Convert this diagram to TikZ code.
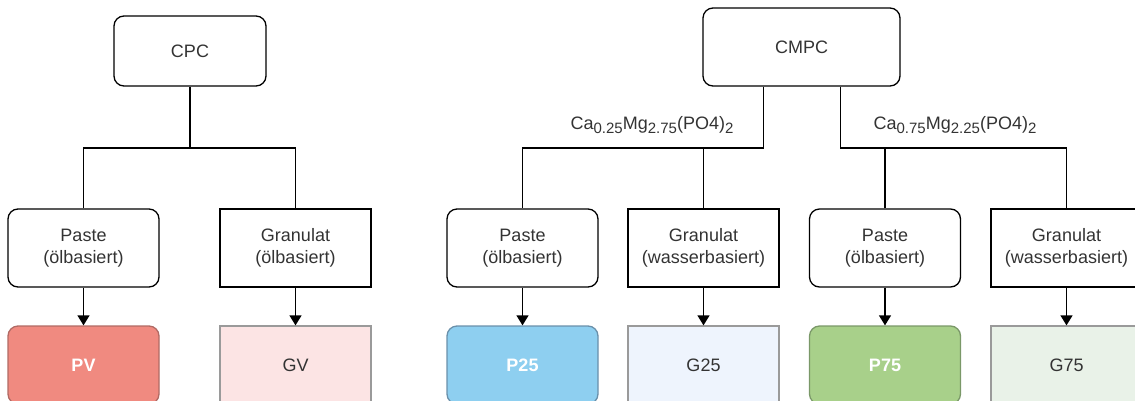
\documentclass[tikz,border=0pt]{standalone}
\usepackage{fontspec}
\setmainfont{Liberation Sans}
\usetikzlibrary{arrows.meta,calc}
\definecolor{txt}{HTML}{333333}
\definecolor{pvfill}{HTML}{F08A80}
\definecolor{pvdraw}{HTML}{B06A64}
\definecolor{gvfill}{HTML}{FCE4E4}
\definecolor{pbfill}{HTML}{8ECFF0}
\definecolor{pbdraw}{HTML}{6A90AA}
\definecolor{gbfill}{HTML}{EEF4FD}
\definecolor{pgfill}{HTML}{A8D08A}
\definecolor{pgdraw}{HTML}{7A9868}
\definecolor{ggfill}{HTML}{E9F2E8}
\definecolor{gdraw}{HTML}{9A9A9A}
\newcommand{\mysub}[1]{\raisebox{-4pt}{\fontsize{15}{15}\selectfont #1}}
\tikzset{
  base/.style={draw=black, line width=1.3pt, minimum width=151pt, minimum height=78pt,
    inner sep=0pt, align=center, text=txt, font=\fontsize{18}{22}\selectfont},
  roundbox/.style={base, rounded corners=10pt},
  sqbox/.style={base},
  pbox/.style={roundbox, text=white, font=\fontsize{18}{22}\selectfont\bfseries},
  gbox/.style={sqbox, draw=gdraw},
  conn/.style={line width=1.3pt, draw=black},
  arr/.style={conn, -{Triangle[width=12pt,length=10pt]}},
  lbl/.style={text=txt, font=\fontsize{18}{22}\selectfont, inner sep=0pt}
}
\begin{document}
\begin{tikzpicture}[x=1pt,y=-1pt]
\useasboundingbox (0,0) rectangle (1135,400);
\clip (0,0) rectangle (1135,400);
% top nodes
\node[roundbox, minimum width=152pt, minimum height=70pt] (cpc) at (190,51) {CPC};
\node[roundbox, minimum width=197pt, minimum height=78pt] (cmpc) at (801.5,47) {CMPC};
% middle row
\node[roundbox] (pa1) at (83.5,248) {Paste\\(ölbasiert)};
\node[sqbox]    (gr1) at (295.5,248) {Granulat\\(ölbasiert)};
\node[roundbox] (pa2) at (522.5,248) {Paste\\(ölbasiert)};
\node[sqbox]    (gr2) at (703.5,248) {Granulat\\(wasserbasiert)};
\node[roundbox] (pa3) at (885,248) {Paste\\(ölbasiert)};
\node[sqbox]    (gr3) at (1066.5,248) {Granulat\\(wasserbasiert)};
% bottom row
\node[pbox, fill=pvfill, draw=pvdraw] (pv) at (83.5,365) {PV};
\node[gbox, fill=gvfill] (gv) at (295.5,365) {GV};
\node[pbox, fill=pbfill, draw=pbdraw] (p25) at (522.5,365) {P25};
\node[gbox, fill=gbfill] (g25) at (703.5,365) {G25};
\node[pbox, fill=pgfill, draw=pgdraw] (p75) at (885,365) {P75};
\node[gbox, fill=ggfill] (g75) at (1066.5,365) {G75};
% CPC tree
\coordinate (j1) at (190,148);
\draw[conn] (cpc.south) -- (j1);
\draw[conn] (pa1.north) |- (j1) -| (gr1.north);
% CMPC tree
\coordinate (c1) at ($(cmpc.south west)!0.31!(cmpc.south east)$);
\coordinate (c2) at ($(cmpc.south west)!0.695!(cmpc.south east)$);
\coordinate (k1) at (c1 |- j1);
\coordinate (k2) at (c2 |- j1);
\draw[conn] (c1) -- (k1) -| (pa2.north);
\draw[conn] (gr2.north) -- (gr2.north |- k1);
\draw[conn] (c2) -- (k2) -| (gr3.north);
\draw[conn] (pa3.north) -- (pa3.north |- k2);
% labels
\node[lbl] (l1) at (652,125) {Ca\mysub{0.25}Mg\mysub{2.75}(PO4)\mysub{2}};
\node[lbl] (l2) at (955,125) {Ca\mysub{0.75}Mg\mysub{2.25}(PO4)\mysub{2}};
% arrows
\draw[arr] (pa1) -- (pv);
\draw[arr] (gr1) -- (gv);
\draw[arr] (pa2) -- (p25);
\draw[arr] (gr2) -- (g25);
\draw[arr] (pa3) -- (p75);
\draw[arr] (gr3) -- (g75);
\end{tikzpicture}
\end{document}
